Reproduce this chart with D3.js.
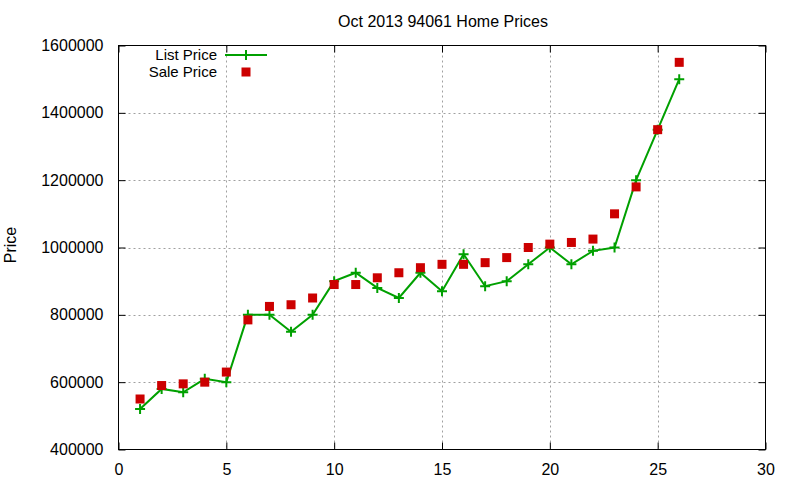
<!DOCTYPE html>
<html>
<head>
<meta charset="utf-8">
<script src="https://cdn.jsdelivr.net/npm/d3@7"></script>
<style>
  body { margin: 0; background: #fff; }
  text { font-family: "Liberation Sans", Arial, sans-serif; fill: #000; }
</style>
</head>
<body>
<div id="chart"></div>
<script>
(function () {
    // data
    const index = [1, 2, 3, 4, 5, 6, 7, 8, 9, 10, 11, 12, 13, 14, 15, 16, 17, 18, 19, 20, 21, 22, 23, 24, 25, 26];
    const listPrice = [520000, 580000, 570000, 610000, 600000, 800000, 800000, 750000, 800000, 900000,
        925000, 880000, 850000, 925000, 870000, 980000, 885000, 900000, 950000, 1000000,
        950000, 990000, 1000000, 1200000, 1350000, 1500000];
    const salePrice = [550000, 590000, 595000, 600000, 630000, 785000, 825000, 830000, 850000, 890000,
        890000, 910000, 925000, 940000, 950000, 950000, 955000, 970000, 1000000, 1010000,
        1015000, 1025000, 1100000, 1180000, 1350000, 1550000];
    const xTicks = [0, 5, 10, 15, 20, 25, 30];
    const yTicks = [400000, 600000, 800000, 1000000, 1200000, 1400000, 1600000];

    const W = 800, H = 480;
    const left = 118.5, right = 765.5, top = 45.5, bottom = 449.5;
    const green = "#00a000", red = "#cc0000";

    const svg = d3.select("#chart").append("svg")
        .attr("width", W).attr("height", H);

    const x = d3.scaleLinear().domain([0, 30]).range([left, right]);
    const y = d3.scaleLinear().domain([400000, 1600000]).range([bottom, top]);

    // grid
    const grid = svg.append("g").attr("stroke", "#a0a0a0").attr("stroke-dasharray", "2,3");
    xTicks.slice(1, -1).forEach(t => {
        grid.append("line").attr("x1", Math.round(x(t)) + 0.5).attr("x2", Math.round(x(t)) + 0.5)
            .attr("y1", top).attr("y2", bottom);
    });
    yTicks.slice(1, -1).forEach(t => {
        grid.append("line").attr("y1", Math.round(y(t)) + 0.5).attr("y2", Math.round(y(t)) + 0.5)
            .attr("x1", left).attr("x2", right);
    });

    // axes (ticks pointing inward, mirrored)
    const fmt = d3.format("d");
    svg.append("g").attr("transform", `translate(0,${bottom})`)
        .call(d3.axisBottom(x).tickValues(xTicks).tickFormat(fmt).tickSizeInner(-7).tickSizeOuter(0).tickPadding(14));
    svg.append("g").attr("transform", `translate(0,${top})`)
        .call(d3.axisTop(x).tickValues(xTicks).tickFormat("").tickSizeInner(-7).tickSizeOuter(0));
    svg.append("g").attr("transform", `translate(${left},0)`)
        .call(d3.axisLeft(y).tickValues(yTicks).tickFormat(fmt).tickSizeInner(-7).tickSizeOuter(0).tickPadding(15));
    svg.append("g").attr("transform", `translate(${right},0)`)
        .call(d3.axisRight(y).tickValues(yTicks).tickFormat("").tickSizeInner(-7).tickSizeOuter(0));
    svg.selectAll(".domain").remove();
    svg.selectAll(".tick line").attr("stroke", "#000");
    svg.selectAll(".tick text").attr("font-size", 16).attr("font-family", "Liberation Sans, Arial, sans-serif");

    svg.append("rect").attr("x", left).attr("y", top)
        .attr("width", right - left).attr("height", bottom - top)
        .attr("fill", "none").attr("stroke", "#000");

    // titles
    svg.append("text").attr("x", 443).attr("y", 27).attr("text-anchor", "middle")
        .attr("font-size", 16).text("Oct 2013 94061 Home Prices");
    svg.append("text").attr("transform", "translate(16,245) rotate(-90)")
        .attr("text-anchor", "middle").attr("font-size", 16).text("Price");

    // list price line + plus markers
    const listData = index.map((d, i) => ({ x: d, y: listPrice[i] }));
    const saleData = index.map((d, i) => ({ x: d, y: salePrice[i] }));
    const line = d3.line().x(d => x(d.x)).y(d => y(d.y));
    svg.append("path").datum(listData).attr("d", line)
        .attr("fill", "none").attr("stroke", green).attr("stroke-width", 2);

    const plus = (g, cx, cy) => {
        g.append("path").attr("d", `M${cx - 5},${cy}H${cx + 5}M${cx},${cy - 5}V${cy + 5}`)
            .attr("stroke", green).attr("stroke-width", 2);
    };
    const pts = svg.append("g");
    listData.forEach(d => plus(pts, x(d.x), y(d.y)));

    // sale price squares
    svg.append("g").selectAll("rect").data(saleData).enter().append("rect")
        .attr("x", d => x(d.x) - 4.5).attr("y", d => y(d.y) - 4.5)
        .attr("width", 9).attr("height", 9).attr("fill", red);

    // legend
    const lg = svg.append("g");
    lg.append("text").attr("x", 217).attr("y", 59.5).attr("text-anchor", "end")
        .attr("font-size", 15).text("List Price");
    lg.append("line").attr("x1", 225).attr("x2", 267).attr("y1", 55).attr("y2", 55)
        .attr("stroke", green).attr("stroke-width", 2);
    plus(lg, 246, 55);
    lg.append("text").attr("x", 217).attr("y", 76.5).attr("text-anchor", "end")
        .attr("font-size", 15).text("Sale Price");
    lg.append("rect").attr("x", 241.5).attr("y", 67.5).attr("width", 9).attr("height", 9).attr("fill", red);
})();
</script>
</body>
</html>
